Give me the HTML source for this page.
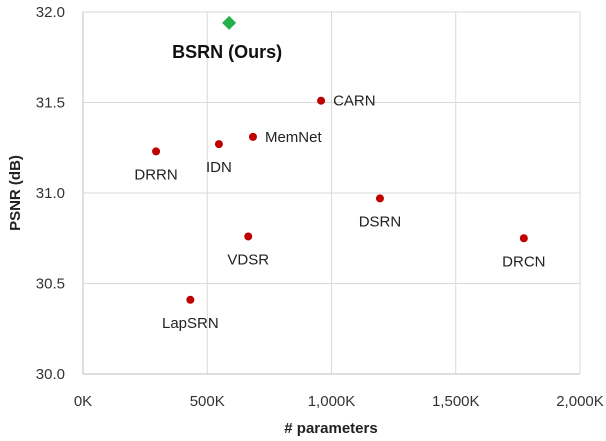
<!DOCTYPE html>
<html><head><meta charset="utf-8"><style>
html,body{margin:0;padding:0;background:#fff;}
svg text{font-family:"Liberation Sans",sans-serif;}
</style></head><body>
<svg id="chart" width="606" height="436"></svg>
<script>
const names=["BSRN (Ours)","CARN","MemNet","IDN","DRRN","DSRN","VDSR","DRCN","LapSRN"];
const params=[588,958,684,547,294,1195,665,1774,432];
const psnr=[31.94,31.51,31.31,31.27,31.23,30.97,30.76,30.75,30.41];
const xTicks=[0,500,1000,1500,2000];
const xTickLabels=["0K","500K","1,000K","1,500K","2,000K"];
const yTicks=[30.0,30.5,31.0,31.5,32.0];
const yTickLabels=["30.0","30.5","31.0","31.5","32.0"];
const NS="http://www.w3.org/2000/svg";
const svg=document.getElementById('chart');
const X0=83,X1=580,Y0=374,Y1=12;
function sx(v){return X0+(v-0)/2000*(X1-X0);}
function sy(v){return Y0-(v-30)/2*(Y0-Y1);}
function mk(t,a,txt){const e=document.createElementNS(NS,t);for(const k in a)e.setAttribute(k,a[k]);if(txt!==undefined)e.textContent=txt;svg.appendChild(e);return e;}
xTicks.forEach((t,i)=>{
 const g=mk('line',{x1:sx(t),x2:sx(t),y1:Y1,y2:Y0,stroke:i===0?'#bfbfbf':'#d9d9d9','stroke-width':1});
 
 
 const l=mk('text',{x:sx(t),y:406,'text-anchor':'middle','font-size':15,fill:'#333'},xTickLabels[i]);
 
 
});
yTicks.forEach((t,i)=>{
 const g=mk('line',{x1:X0,x2:X1,y1:sy(t),y2:sy(t),stroke:i===0?'#bfbfbf':'#d9d9d9','stroke-width':1});
 
 
 const l=mk('text',{x:65,y:sy(t)+5,'text-anchor':'end','font-size':15,fill:'#333'},yTickLabels[i]);
 
 
});
const xt=mk('text',{x:331,y:433,'text-anchor':'middle','font-size':15,'font-weight':'bold',fill:'#222'},'# parameters');


const yt=mk('text',{x:0,y:0,'text-anchor':'middle','font-size':15,'font-weight':'bold',fill:'#222',transform:'translate(20,193) rotate(-90)'},'PSNR (dB)');


names.forEach((n,i)=>{
 const x=sx(params[i]),y=sy(psnr[i]);
 let m;
 if(i===0){m=mk('polygon',{points:`${x},${y-7} ${x+7},${y} ${x},${y+7} ${x-7},${y}`,fill:'#22b14c'});}
 else{m=mk('circle',{cx:x,cy:y,r:4,fill:'#c00000'});}
 
 
 let lab;
 if(i===0){lab=mk('text',{x:x-2,y:y+35,'text-anchor':'middle','font-size':18,'font-weight':'bold',fill:'#111'},n);}
 else if(i===1||i===2){lab=mk('text',{x:x+12,y:y+5,'text-anchor':'start','font-size':15,fill:'#222'},n);}
 else{lab=mk('text',{x:x,y:y+28,'text-anchor':'middle','font-size':15,fill:'#222'},n);}
 
 
});
</script>
</body></html>
